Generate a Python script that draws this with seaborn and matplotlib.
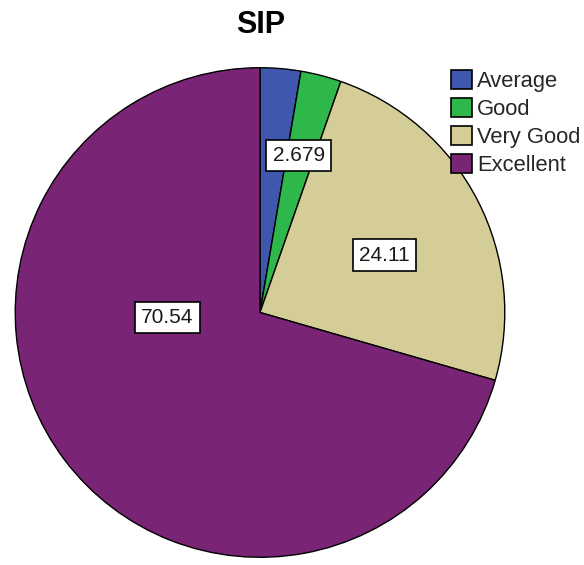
import matplotlib
matplotlib.use("Agg")
import matplotlib.pyplot as plt
import seaborn as sns
import numpy as np
from matplotlib.patches import Patch

categories = ["Average", "Good", "Very Good", "Excellent"]
values = [2.679, 2.679, 24.11, 70.54]
label_texts = ["2.679", "2.679", "24.11", "70.54"]
colors = ["#3f58ad", "#2eb84b", "#d4cd97", "#792475"]

sns.set_theme(style="white")
plt.rcParams['font.family'] = ['Liberation Sans', 'DejaVu Sans']

W, H = 584, 565
fig = plt.figure(figsize=(W / 100, H / 100), dpi=100)
cx, cy, r = 260, 312.5, 246
ax = fig.add_axes([(cx - r) / W, (H - cy - r) / H, 2 * r / W, 2 * r / H])

wedges, _ = ax.pie(values, colors=colors, startangle=90, counterclock=False,
                   radius=1.0, wedgeprops=dict(edgecolor="black", linewidth=1.0))
ax.set_xlim(-1.005, 1.005)
ax.set_ylim(-1.005, 1.005)
ax.set_aspect("equal")
ax.axis("off")

# label placement (angle from top clockwise in degrees, radius fraction); Average label hidden by overlap
label_pos = [None, (13.9, 0.66), (65.3, 0.56), (267.0, 0.38)]
for txt, pos in zip(label_texts, label_pos):
    if pos is None:
        continue
    ang, rf = pos
    x = rf * np.sin(np.radians(ang))
    y = rf * np.cos(np.radians(ang))
    ax.text(x, y, txt, ha="center", va="center", fontsize=15, color="#1a1a1a",
            bbox=dict(boxstyle="square,pad=0.3", fc="white", ec="black", lw=1.2))

fig.text(261 / W, 1 - 25 / H, "SIP", ha="center", va="center",
         fontsize=22, fontweight="bold", color="black")

handles = [Patch(facecolor=c, edgecolor="black", linewidth=1.2) for c in colors]
fig.legend(handles, categories, loc="upper left",
           bbox_to_anchor=(451 / W, 1 - 70 / H), frameon=False,
           fontsize=15.8, handlelength=0.95, handleheight=0.95,
           handletextpad=0.25, labelspacing=0.27, borderaxespad=0, borderpad=0)

fig.savefig("out.png", dpi=100, facecolor="white")
